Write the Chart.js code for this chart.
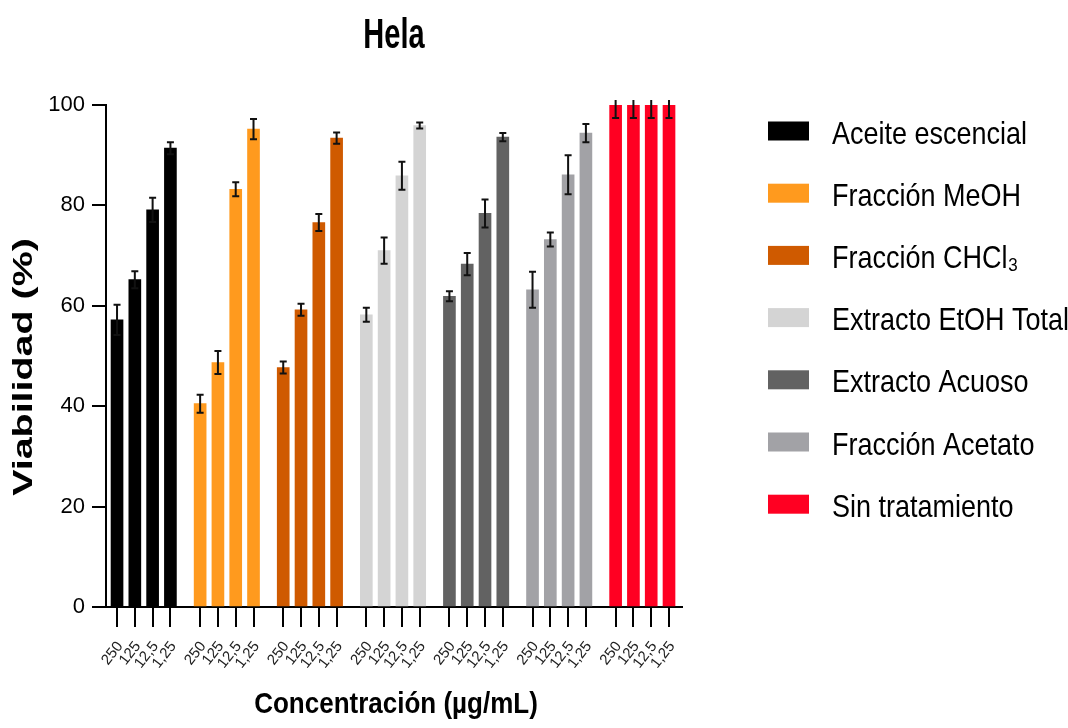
<!DOCTYPE html>
<html>
<head>
<meta charset="utf-8">
<script src="https://cdn.jsdelivr.net/npm/chart.js@4/dist/chart.umd.min.js"></script>
<style>
  html, body { margin: 0; padding: 0; background: #ffffff; }
  #wrap { width: 1068px; height: 728px; }
</style>
</head>
<body>
<div id="wrap"><canvas id="c" width="1068" height="728"></canvas></div>
<script>
// ---- Data ----
const chartTitle = 'Hela';
const yTitle = 'Viabilidad (%)';
const xTitle = 'Concentración (µg/mL)';
const concentraciones = ['250', '125', '12,5', '1,25'];
const seriesNames = ['Aceite escencial', 'Fracción MeOH', 'Fracción CHCl₃', 'Extracto EtOH Total', 'Extracto Acuoso', 'Fracción Acetato', 'Sin tratamiento'];
const seriesColors = ['#000000', '#FF9A1E', '#CF5A00', '#D4D4D4', '#626262', '#A2A2A6', '#FF0022'];

const aceite   = [57.2, 65.2, 79.1, 91.4];
const aceiteErr = [3.0, 1.7, 2.4, 1.2];
const meoh     = [40.5, 48.7, 83.2, 95.2];
const meohErr  = [1.8, 2.3, 1.4, 2.0];
const chcl3    = [47.7, 59.2, 76.6, 93.4];
const chcl3Err = [1.2, 1.2, 1.7, 1.1];
const etoh     = [58.2, 71.0, 85.9, 95.9];
const etohErr  = [1.4, 2.6, 2.8, 0.6];
const acuoso   = [61.9, 68.3, 78.4, 93.6];
const acuosoErr = [1.0, 2.2, 2.8, 0.8];
const acetato  = [63.2, 73.2, 86.1, 94.4];
const acetatoErr = [3.6, 1.4, 3.9, 1.8];
const sinTrat  = [100, 100, 100, 100];
const sinTratErr = [2.6, 2.6, 2.6, 2.6];

const yTicks = [0, 20, 40, 60, 80, 100];

const seriesValues = [aceite, meoh, chcl3, etoh, acuoso, acetato, sinTrat];
const seriesErrors = [aceiteErr, meohErr, chcl3Err, etohErr, acuosoErr, acetatoErr, sinTratErr];

// group spacing on the index axis (4 bars + gap)
const groupStep = 4.67;
const xPos = (g, i) => g * groupStep + i;
const tickPositions = [];
seriesValues.forEach((vals, g) => vals.forEach((v, i) => tickPositions.push(xPos(g, i))));

const datasets = seriesNames.map((name, g) => ({
  label: name,
  data: seriesValues[g].map((v, i) => ({ x: xPos(g, i), y: v })),
  errors: seriesErrors[g],
  backgroundColor: seriesColors[g],
  borderWidth: 0,
  barThickness: 12,
  grouped: false
}));

const FONT = '"Liberation Sans", Arial, Helvetica, sans-serif';

const errorBarPlugin = {
  id: 'errorBars',
  afterDatasetsDraw(chart) {
    const ctx = chart.ctx;
    const ys = chart.scales.y;
    const area = chart.chartArea;
    ctx.save();
    ctx.beginPath();
    ctx.rect(0, area.top - 5, chart.width, chart.height);
    ctx.clip();
    ctx.strokeStyle = '#111111';
    ctx.lineWidth = 2;
    chart.data.datasets.forEach((ds, di) => {
      const meta = chart.getDatasetMeta(di);
      meta.data.forEach((bar, i) => {
        const v = ds.data[i].y, e = ds.errors[i];
        const x = bar.x;
        const yt = ys.getPixelForValue(v + e);
        const yb = ys.getPixelForValue(v - e);
        ctx.beginPath();
        ctx.moveTo(x, yt); ctx.lineTo(x, yb);
        ctx.moveTo(x - 3.5, yt); ctx.lineTo(x + 3.5, yt);
        ctx.moveTo(x - 3.5, yb); ctx.lineTo(x + 3.5, yb);
        ctx.stroke();
      });
    });
    ctx.restore();
  }
};

const decorPlugin = {
  id: 'decor',
  afterDraw(chart) {
    const ctx = chart.ctx;
    const area = chart.chartArea;
    ctx.save();
    ctx.fillStyle = '#000000';
    // chart title
    ctx.save();
    ctx.font = 'bold 29px ' + FONT;
    ctx.textAlign = 'center';
    ctx.textBaseline = 'alphabetic';
    ctx.translate((area.left + area.right) / 2, 48);
    ctx.scale(1, 1.45);
    ctx.fillText(chartTitle, 0, 0);
    ctx.restore();
    // y axis title
    ctx.save();
    ctx.font = 'bold 27px ' + FONT;
    ctx.textAlign = 'center';
    ctx.textBaseline = 'alphabetic';
    ctx.translate(32, 367);
    ctx.rotate(-Math.PI / 2);
    ctx.scale(1.46, 1);
    ctx.fillText(yTitle, 0, 0);
    ctx.restore();
    // x axis title
    ctx.save();
    ctx.font = 'bold 26px ' + FONT;
    ctx.textAlign = 'center';
    ctx.textBaseline = 'alphabetic';
    ctx.translate((area.left + area.right) / 2 + 2, 713);
    ctx.scale(1, 1.1);
    ctx.fillText(xTitle, 0, 0);
    ctx.restore();
    // legend
    chart.data.datasets.forEach((ds, i) => {
      const cy = 131 + 62.2 * i;
      ctx.fillStyle = ds.backgroundColor;
      ctx.fillRect(768, cy - 9.5, 41, 19);
      ctx.save();
      ctx.fillStyle = '#000000';
      ctx.font = '27px ' + FONT;
      ctx.textAlign = 'left';
      ctx.textBaseline = 'alphabetic';
      ctx.translate(832, cy + 12.5);
      ctx.scale(1, 1.19);
      ctx.fillText(ds.label, 0, 0);
      ctx.restore();
    });
    ctx.restore();
  }
};

new Chart(document.getElementById('c'), {
  type: 'bar',
  data: { datasets },
  options: {
    responsive: false,
    animation: false,
    layout: { padding: { left: 0, right: 386, top: 105, bottom: 0 } },
    plugins: {
      legend: { display: false },
      title: { display: false },
      tooltip: { enabled: false }
    },
    scales: {
      x: {
        type: 'linear',
        offset: false,
        min: -0.62,
        max: 6 * groupStep + 3 + 0.73,
        afterFit(scale) { scale.height = 121; },
        afterBuildTicks(scale) { scale.ticks = tickPositions.map(v => ({ value: v })); },
        grid: { display: true, offset: false, drawOnChartArea: false, drawTicks: true, tickLength: 20, color: '#000000', lineWidth: 2 },
        border: { display: true, color: '#000000', width: 2 },
        ticks: {
          autoSkip: false,
          minRotation: 52,
          maxRotation: 52,
          padding: 11,
          labelOffset: 3,
          color: '#222222',
          font: { family: FONT, size: 15 },
          callback: (value, index) => concentraciones[index % concentraciones.length]
        }
      },
      y: {
        min: 0,
        max: 100,
        afterFit(scale) { scale.width = 106; },
        afterBuildTicks(scale) { scale.ticks = yTicks.map(v => ({ value: v })); },
        grid: { display: true, drawOnChartArea: false, drawTicks: true, tickLength: 14, color: '#000000', lineWidth: 2 },
        border: { display: true, color: '#000000', width: 2 },
        ticks: {
          padding: 7,
          color: '#000000',
          font: { family: FONT, size: 22 }
        }
      }
    }
  },
  plugins: [errorBarPlugin, decorPlugin]
});
</script>
</body>
</html>
